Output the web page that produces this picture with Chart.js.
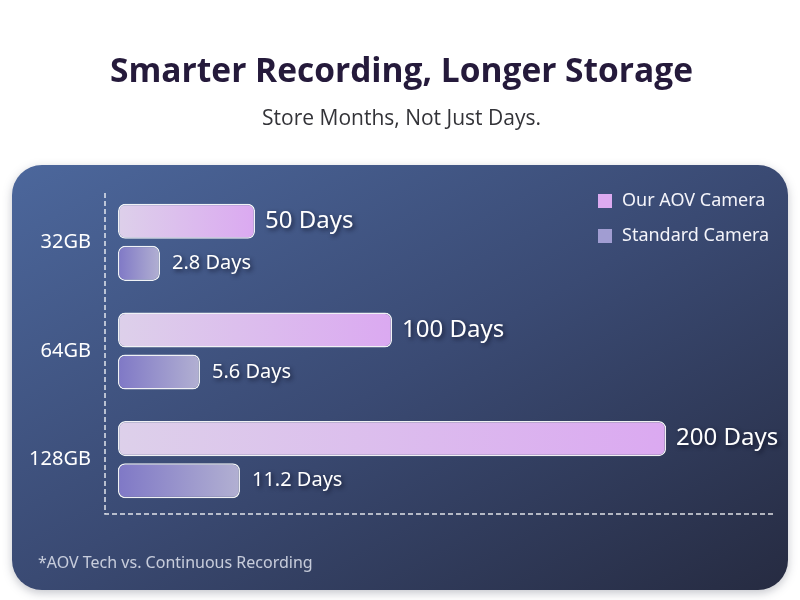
<!DOCTYPE html>
<html lang="en">
<head>
<meta charset="utf-8">
<title>Smarter Recording, Longer Storage</title>
<script src="https://cdn.jsdelivr.net/npm/chart.js@4.4.1/dist/chart.umd.min.js"></script>
<style>
  body { margin: 0; background: #ffffff; }
  #wrap { width: 800px; height: 600px; }
</style>
</head>
<body>
<div id="wrap"><canvas id="storageChart"></canvas></div>
<script>
// chart data
const cards = ['32GB', '64GB', '128GB'];
const aovDays = [50, 100, 200];
const standardDays = [2.8, 5.6, 11.2];
const seriesNames = ['Our AOV Camera', 'Standard Camera'];
const chartTitle = 'Smarter Recording, Longer Storage';
const chartSubtitle = 'Store Months, Not Just Days.';
const footnote = '*AOV Tech vs. Continuous Recording';

const aovColors = ['#ddd0ea', '#dba9f1'];
const stdColors = ['#7f78c6', '#b2b0d2'];
const legendColors = ['#dcaaf0', '#a19dd2'];
const labelFont = '"Noto Sans", sans-serif';
const headFont = '"Open Sans", sans-serif';
const dashColor = 'rgba(255, 255, 255, 0.85)';

// horizontal gradient that runs from the bar's base to its tip
function barFill(axisId, baseValue, colors) {
    return (ctx) => {
        const chart = ctx.chart;
        const scale = chart.scales[axisId];
        if (!chart.chartArea || !scale || ctx.raw == null) return colors[1];
        const x0 = scale.getPixelForValue(baseValue);
        const x1 = scale.getPixelForValue(ctx.raw);
        if (!isFinite(x0) || !isFinite(x1) || x1 <= x0) return colors[1];
        const g = chart.ctx.createLinearGradient(x0, 0, x1, 0);
        g.addColorStop(0, colors[0]);
        g.addColorStop(1, colors[1]);
        return g;
    };
}

// dark rounded card behind the plot, dashed axes, legend and footnote
const panelPlugin = {
    id: 'panel',
    beforeDraw(chart) {
        const c = chart.ctx;
        const x = 12, y = 165, w = 776, h = 425, r = 30;
        c.save();
        // "to bottom right" style gradient: the other two corners share the middle colour
        const g = c.createLinearGradient(x, y, x + 358, y + 654);
        g.addColorStop(0, '#4c679c');
        g.addColorStop(0.5, '#3a4a73');
        g.addColorStop(1, '#262b41');
        c.shadowColor = 'rgba(20, 25, 50, 0.25)';
        c.shadowBlur = 10;
        c.shadowOffsetY = 3;
        c.fillStyle = g;
        c.beginPath();
        c.roundRect(x, y, w, h, r);
        c.fill();
        c.restore();
    },
    beforeDatasetsDraw(chart) {
        const c = chart.ctx;
        const a = chart.chartArea;
        c.save();
        c.strokeStyle = dashColor;
        c.lineWidth = 1.5;
        c.setLineDash([5, 3]);
        c.beginPath();
        c.moveTo(a.left, a.top + 5);
        c.lineTo(a.left, a.bottom);
        c.lineTo(a.right, a.bottom);
        c.stroke();
        c.restore();
    },
    afterDraw(chart) {
        const c = chart.ctx;
        c.save();
        // legend
        c.font = '18px ' + labelFont;
        c.textBaseline = 'middle';
        chart.data.datasets.forEach((ds, i) => {
            const y = 201 + i * 35;
            c.fillStyle = legendColors[i];
            c.fillRect(598, y - 7, 14, 14);
            c.fillStyle = '#f4f4fa';
            c.fillText(ds.label, 622, y);
        });
        // footnote
        c.font = '16px ' + labelFont;
        c.fillStyle = 'rgba(225, 228, 238, 0.85)';
        c.fillText(footnote, 38, 563);
        c.restore();
    }
};

// "N Days" labels at the end of each bar
const valueLabels = {
    id: 'valueLabels',
    afterDatasetsDraw(chart) {
        const c = chart.ctx;
        c.save();
        c.textBaseline = 'middle';
        c.fillStyle = '#ffffff';
        c.shadowColor = 'rgba(10, 12, 30, 0.7)';
        c.shadowBlur = 4;
        c.shadowOffsetX = 2;
        c.shadowOffsetY = 2;
        chart.data.datasets.forEach((ds, i) => {
            const meta = chart.getDatasetMeta(i);
            c.font = (i === 0 ? '24px ' : '20px ') + labelFont;
            meta.data.forEach((bar, j) => {
                c.fillText(ds.data[j] + ' Days', bar.x + (i === 0 ? 10 : 12), bar.y);
            });
        });
        c.restore();
    }
};

const stdBase = 1.35;

new Chart(document.getElementById('storageChart'), {
    type: 'bar',
    data: {
        labels: cards,
        datasets: [
            {
                label: seriesNames[0],
                data: aovDays,
                xAxisID: 'x',
                backgroundColor: barFill('x', 0, aovColors),
                borderColor: 'rgba(255, 255, 255, 0.92)',
                borderWidth: 1.5,
                borderRadius: 7,
                borderSkipped: false,
                categoryPercentage: 0.774,
                barPercentage: 0.833
            },
            {
                label: seriesNames[1],
                data: standardDays,
                xAxisID: 'x2',
                base: stdBase,
                backgroundColor: barFill('x2', stdBase, stdColors),
                borderColor: 'rgba(255, 255, 255, 0.92)',
                borderWidth: 1.5,
                borderRadius: 7,
                borderSkipped: false,
                categoryPercentage: 0.774,
                barPercentage: 0.833
            }
        ]
    },
    options: {
        indexAxis: 'y',
        responsive: true,
        maintainAspectRatio: false,
        animation: false,
        layout: { padding: { left: 30, right: 27, top: 0, bottom: 86 } },
        scales: {
            x: {
                type: 'linear',
                position: 'bottom',
                min: -4.75,
                max: 239,
                ticks: { display: false },
                grid: { display: false, drawTicks: false },
                border: { display: false }
            },
            x2: {
                type: 'logarithmic',
                position: 'top',
                display: false,
                min: 1.08,
                max: 115000
            },
            y: {
                type: 'category',
                ticks: {
                    color: '#ffffff',
                    padding: 14,
                    font: { family: labelFont, size: 20 }
                },
                grid: { display: false, drawTicks: false },
                border: { display: false },
                afterFit(scale) { scale.width = 75; }
            }
        },
        plugins: {
            legend: { display: false },
            tooltip: { enabled: false },
            title: {
                display: true,
                text: chartTitle,
                color: '#251a3b',
                font: { family: headFont, size: 33.5, weight: 'bold' },
                padding: { top: 52, bottom: 0 }
            },
            subtitle: {
                display: true,
                text: chartSubtitle,
                color: '#333338',
                font: { family: headFont, size: 21 },
                padding: { top: 14.2, bottom: 56.4 }
            }
        }
    },
    plugins: [panelPlugin, valueLabels]
});
</script>
</body>
</html>
